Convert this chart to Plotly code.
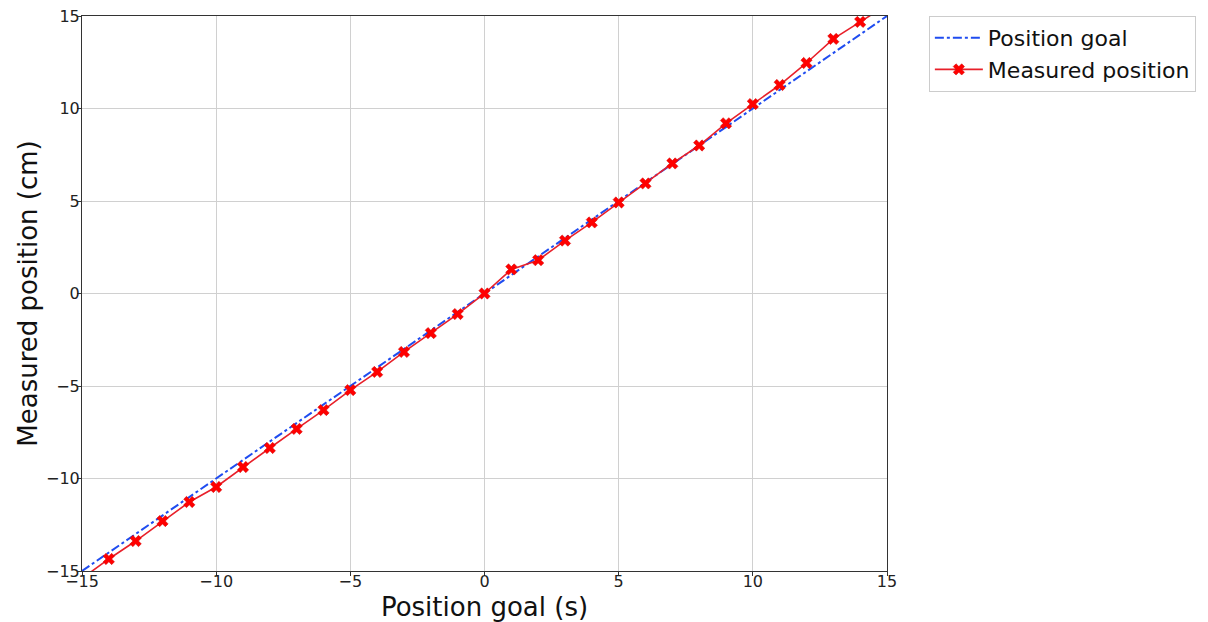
import plotly.graph_objects as go

goal = list(range(-15, 16))
measured = [-15.4, -14.35, -13.38, -12.3, -11.27, -10.46, -9.38, -8.35, -7.32, -6.3,
            -5.22, -4.24, -3.16, -2.14, -1.11, 0.0, 1.3, 1.8, 2.86, 3.84,
            4.92, 5.95, 7.03, 8.0, 9.2, 10.24, 11.27, 12.46, 13.76, 14.68, 15.6]
ticks = [-15, -10, -5, 0, 5, 10, 15]
tick_text = ["\u221215", "\u221210", "\u22125", "0", "5", "10", "15"]

fig = go.Figure()
fig.add_trace(go.Scatter(x=goal, y=goal, mode="lines", name="Position goal",
                         line=dict(color="#1f4cf0", width=2, dash="dashdot")))
fig.add_trace(go.Scatter(x=goal, y=measured, mode="lines+markers", name="Measured position",
                         line=dict(color="#e8202a", width=1.6),
                         marker=dict(symbol="x", size=10, color="red",
                                     line=dict(color="#d00000", width=0.5))))

axis_common = dict(range=[-15, 15], tickvals=ticks, ticktext=tick_text,
                   showgrid=True, gridcolor="#d0d0d0", gridwidth=1,
                   showline=True, linecolor="#333333", linewidth=1, mirror=True,
                   ticks="outside", ticklen=4, tickcolor="#333333",
                   tickfont=dict(family="DejaVu Sans", size=16, color="#222"),
                   ticklabeloverflow="allow",
                   zeroline=False, automargin=False)
fig.update_xaxes(**axis_common, ticklabelstandoff=-8,
                 title=dict(text="Position goal (s)", font=dict(family="DejaVu Sans", size=26, color="#111"),
                            standoff=8))
fig.update_yaxes(**axis_common, ticklabelstandoff=-6,
                 title=dict(text="Measured position (cm)", font=dict(family="DejaVu Sans", size=26, color="#111"),
                            standoff=0))
# The page body adds an 8px margin, so the figure is shifted by 8px.
fig.update_layout(width=1204, height=614,
                  margin=dict(l=74, r=325, t=8, b=51, autoexpand=False),
                  plot_bgcolor="white", paper_bgcolor="white",
                  legend=dict(x=1.052, y=1.0, xanchor="left", yanchor="top",
                              bordercolor="#cccccc", borderwidth=1, itemwidth=48,
                              font=dict(family="DejaVu Sans", size=22, color="#111"),
                              bgcolor="white"))
fig.write_html("out.html")
